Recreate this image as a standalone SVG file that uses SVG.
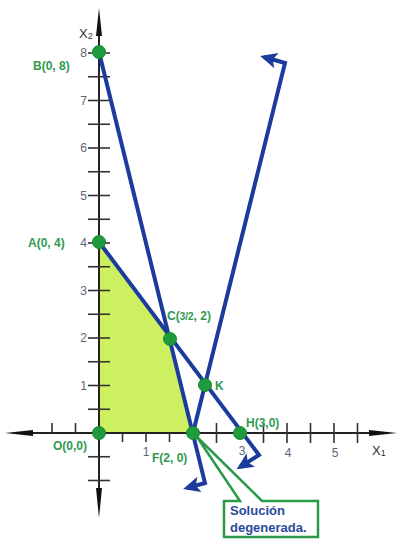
<svg xmlns="http://www.w3.org/2000/svg" width="398" height="539" viewBox="0 0 398 539">
<style>
.ax{stroke:#222;stroke-width:2;fill:none}
.tk{stroke:#333;stroke-width:1.6}
.num{font-family:"Liberation Sans",Arial,sans-serif;font-size:12px;fill:#5b6478}
.lbl{font-family:"Liberation Sans",Arial,sans-serif;font-size:12px;font-weight:bold;fill:#2f9a50}
.axl{font-family:"Liberation Sans",Arial,sans-serif;font-size:13px;fill:#333}
.bl{stroke:#1b3c9c;stroke-width:4;fill:none;stroke-linejoin:miter}
.pt{fill:#1f9a3c;stroke:#178a30;stroke-width:1}
.call{font-family:"Liberation Sans",Arial,sans-serif;font-size:13px;font-weight:bold;fill:#2b4a9b}
</style>
<defs>
<marker id="ba" markerUnits="userSpaceOnUse" markerWidth="20" markerHeight="20" refX="13" refY="8" orient="auto">
<path d="M0,0 L17,8 L0,16 L4,8 Z" fill="#1b3c9c"/>
</marker>
</defs>
<g id="region">
<polygon points="99,433 99,242 170,338 193,433" fill="#cdf060"/>
</g>
<g id="axes">
<line class="ax" x1="99" y1="20" x2="99" y2="506"/>
<line class="ax" x1="18" y1="433" x2="385" y2="433"/>
<polygon points="99,8 96,36 102,36" fill="#111"/>
<polygon points="99,518 96,488 102,488" fill="#111"/>
<polygon points="5,433 33,430 33,436" fill="#111"/>
<polygon points="397,433 369,430 369,436" fill="#111"/>
<g class="tk">
<line x1="88" y1="409.25" x2="110" y2="409.25"/>
<line x1="88" y1="385.5" x2="110" y2="385.5"/>
<line x1="88" y1="361.75" x2="110" y2="361.75"/>
<line x1="88" y1="338" x2="110" y2="338"/>
<line x1="88" y1="314.25" x2="110" y2="314.25"/>
<line x1="88" y1="290.5" x2="110" y2="290.5"/>
<line x1="88" y1="266.75" x2="110" y2="266.75"/>
<line x1="88" y1="243" x2="110" y2="243"/>
<line x1="88" y1="219.25" x2="110" y2="219.25"/>
<line x1="88" y1="195.5" x2="110" y2="195.5"/>
<line x1="88" y1="171.75" x2="110" y2="171.75"/>
<line x1="88" y1="148" x2="110" y2="148"/>
<line x1="88" y1="124.25" x2="110" y2="124.25"/>
<line x1="88" y1="100.5" x2="110" y2="100.5"/>
<line x1="88" y1="76.75" x2="110" y2="76.75"/>
<line x1="88" y1="53" x2="110" y2="53"/>
<line x1="88" y1="456.75" x2="110" y2="456.75"/>
<line x1="88" y1="480.5" x2="110" y2="480.5"/>
<line x1="52" y1="423" x2="52" y2="433"/>
<line x1="75.5" y1="423" x2="75.5" y2="433"/>
<line x1="122.5" y1="433" x2="122.5" y2="442"/>
<line x1="146" y1="433" x2="146" y2="442"/>
<line x1="169.5" y1="433" x2="169.5" y2="442"/>
<line x1="216.5" y1="423" x2="216.5" y2="443"/>
<line x1="263.5" y1="423" x2="263.5" y2="443"/>
<line x1="287" y1="423" x2="287" y2="443"/>
<line x1="310.5" y1="423" x2="310.5" y2="443"/>
<line x1="334" y1="423" x2="334" y2="443"/>
<line x1="357.5" y1="423" x2="357.5" y2="443"/>
</g>
<text class="num" x="87" y="57" text-anchor="end">8</text>
<text class="num" x="87" y="105" text-anchor="end">7</text>
<text class="num" x="87" y="152" text-anchor="end">6</text>
<text class="num" x="87" y="200" text-anchor="end">5</text>
<text class="num" x="87" y="247" text-anchor="end">4</text>
<text class="num" x="87" y="295" text-anchor="end">3</text>
<text class="num" x="87" y="342" text-anchor="end">2</text>
<text class="num" x="87" y="390" text-anchor="end">1</text>
<text class="num" x="146" y="456" text-anchor="middle" font-size="11">1</text>
<text class="num" x="242" y="455" text-anchor="middle">3</text>
<text class="num" x="288" y="457" text-anchor="middle">4</text>
<text class="num" x="335" y="457" text-anchor="middle">5</text>
<text class="axl" x="79" y="38">X<tspan font-size="9" dy="1">2</tspan></text>
<text class="axl" x="372" y="455">X<tspan font-size="9" dy="1">1</tspan></text>
</g>
<g id="connectors">
<polyline class="bl" points="99,52 205,483 187,488" marker-end="url(#ba)"/>
<polyline class="bl" points="99,242 259,455 240,467" marker-end="url(#ba)"/>
<polyline class="bl" points="193,433 285,63 264,57" marker-end="url(#ba)"/>
</g>
<g id="callout">
<path d="M224,501 L240,501 L197,437 L262,501 L318,501 L318,537 L224,537 Z" fill="#fff" stroke="#2a9a4a" stroke-width="2.5" stroke-linejoin="miter"/>
<text class="call" x="230" y="515">Solución</text>
<text class="call" x="230" y="532">degenerada.</text>
</g>
<g id="B"><circle class="pt" cx="99" cy="52" r="6.5"/><text class="lbl" x="33" y="70">B(0, 8)</text></g>
<g id="A"><circle class="pt" cx="99" cy="242" r="6.5"/><text class="lbl" x="28" y="247">A(0, 4)</text></g>
<g id="C"><circle class="pt" cx="170" cy="339" r="6.5"/><text class="lbl" x="167" y="320">C(<tspan font-size="10">3/2</tspan>, 2)</text></g>
<g id="K"><circle class="pt" cx="205" cy="385" r="6.5"/><text class="lbl" x="215" y="390">K</text></g>
<g id="H"><circle class="pt" cx="240" cy="433" r="6.5"/><text class="lbl" x="246" y="427">H(3,0)</text></g>
<g id="F"><circle class="pt" cx="193" cy="433" r="6.5"/><text class="lbl" x="152" y="462">F(2, 0)</text></g>
<g id="O"><circle class="pt" cx="99" cy="433" r="6.5"/><text class="lbl" x="53" y="450">O(0,0)</text></g>
</svg>
